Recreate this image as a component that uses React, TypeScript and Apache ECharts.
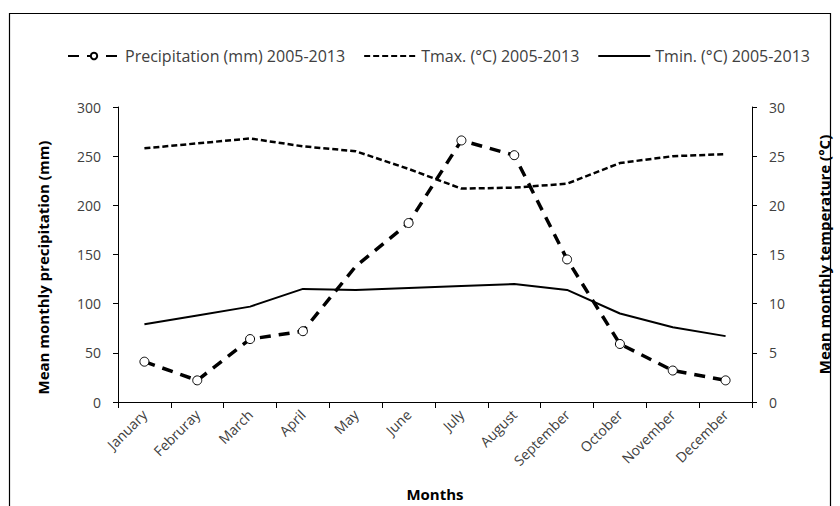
import React, { useEffect, useRef } from "react";
import * as echarts from "echarts";

const months = ["January", "Februray", "March", "April", "May", "June", "July", "August", "September", "October", "November", "December"];
const precipitation = [41, 22, 64, 72, 138, 182, 266, 251, 145, 59, 32, 22];
const tmax = [25.8, 26.3, 26.8, 26.0, 25.5, 23.7, 21.7, 21.8, 22.2, 24.3, 25.0, 25.2];
const tmin = [7.9, 8.8, 9.7, 11.5, 11.4, 11.6, 11.8, 12.0, 11.4, 9.0, 7.6, 6.7];
const precipTicks = { min: 0, max: 300, interval: 50 };
const tempTicks = { min: 0, max: 30, interval: 5 };
const hiddenMarker = 4; // May point drawn without marker in the reference

const FONT = "'Open Sans', 'Noto Sans', sans-serif";

export default function App() {
  const ref = useRef<HTMLDivElement>(null);
  useEffect(() => {
    document.body.style.margin = "0";
    const chart = echarts.init(ref.current!, null, { renderer: "svg" });
    const labelStyle = { color: "#404040", fontSize: 14, fontFamily: FONT };
    const axisLine = { show: true, lineStyle: { color: "#000", width: 1 } };
    const titleStyle = { color: "#000", fontWeight: "bold", fontSize: 15, fontFamily: FONT };
    const noSymbol = { color: "rgba(0,0,0,0)", borderWidth: 0, borderColor: "rgba(0,0,0,0)" };
    chart.setOption({
      animation: false,
      backgroundColor: "#fff",
      textStyle: { fontFamily: FONT },
      legend: {
        top: 43,
        left: 62,
        itemWidth: 52,
        itemHeight: 8,
        itemGap: 18,
        textStyle: { color: "#404040", fontSize: 16, fontFamily: FONT },
        data: [
          { name: "Precipitation (mm) 2005-2013" },
          { name: "Tmax. (°C) 2005-2013", itemStyle: noSymbol },
          { name: "Tmin. (°C) 2005-2013", itemStyle: noSymbol },
        ],
      },
      grid: { left: 118, right: 88, top: 107, bottom: 100 },
      xAxis: {
        type: "category",
        data: months,
        boundaryGap: true,
        axisLine,
        axisTick: { show: true, length: 6, lineStyle: { color: "#000" } },
        axisLabel: { ...labelStyle, rotate: 45, margin: 10, interval: 0 },
        name: "Months",
        nameLocation: "middle",
        nameGap: 84,
        nameTextStyle: titleStyle,
      },
      yAxis: [
        {
          type: "value",
          ...precipTicks,
          position: "left",
          axisLine,
          axisTick: { show: true, length: 5, lineStyle: { color: "#000" } },
          splitLine: { show: false },
          axisLabel: { ...labelStyle, margin: 17 },
          name: "Mean monthly precipitation (mm)",
          nameLocation: "middle",
          nameGap: 68,
          nameRotate: 90,
          nameTextStyle: { ...titleStyle, padding: [0, 0, 0, -26] },
        },
        {
          type: "value",
          ...tempTicks,
          position: "right",
          axisLine,
          axisTick: { show: true, length: 5, lineStyle: { color: "#000" } },
          splitLine: { show: false },
          axisLabel: { ...labelStyle, margin: 17 },
          name: "Mean monthly temperature (°C)",
          nameLocation: "middle",
          nameGap: 64,
          nameRotate: 90,
          nameTextStyle: titleStyle,
        },
      ],
      series: [
        {
          name: "Tmax. (°C) 2005-2013",
          type: "line",
          yAxisIndex: 1,
          data: tmax,
          symbol: "none",
          color: "#000",
          lineStyle: { color: "#000", width: 2.5, type: [6, 3] },
          z: 2,
        },
        {
          name: "Tmin. (°C) 2005-2013",
          type: "line",
          yAxisIndex: 1,
          data: tmin,
          symbol: "none",
          color: "#000",
          lineStyle: { color: "#000", width: 2, type: "solid" },
          z: 2,
        },
        {
          name: "Precipitation (mm) 2005-2013",
          type: "line",
          yAxisIndex: 0,
          data: precipitation.map((v, i) => (i === hiddenMarker ? { value: v, symbol: "none" } : v)),
          symbol: "circle",
          symbolSize: 9,
          showAllSymbol: true,
          color: "#000",
          itemStyle: { color: "#fff", borderColor: "#000", borderWidth: 1 },
          lineStyle: { color: "#000", width: 3.5, type: [11, 8] },
          z: 3,
        },
      ],
      graphic: [
        {
          type: "rect",
          shape: { x: 9.5, y: 13.5, width: 821, height: 510 },
          style: { fill: "none", stroke: "#000", lineWidth: 1.2 },
          silent: true,
        },
      ],
    });
    return () => chart.dispose();
  }, []);
  return <div ref={ref} style={{ width: 840, height: 506 }} />;
}
